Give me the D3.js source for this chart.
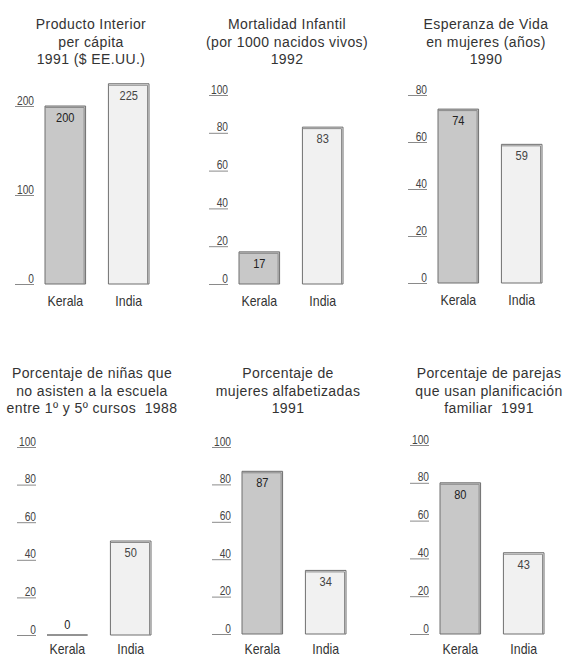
<!DOCTYPE html>
<html>
<head>
<meta charset="utf-8">
<script src="https://cdn.jsdelivr.net/npm/d3@7"></script>
<style>
  html, body { margin: 0; padding: 0; background: #fff; }
  svg { display: block; }
  .title { font-family: "Liberation Sans", Arial, sans-serif; font-size: 14px; letter-spacing: 0.4px; fill: #333; white-space: pre; }
  .tick text, .val, .cat { font-family: "Liberation Sans", Arial, sans-serif; }
</style>
</head>
<body>
<svg id="chart" width="568" height="656"></svg>
<script>
// Kerala vs India: six small bar charts of development indicators
const categories = ["Kerala", "India"];

const gdpValues = [200, 225];
const infantMortality = [17, 83];
const femaleLifeExpectancy = [74, 59];
const girlsNotInSchool = [0, 50];
const femaleLiteracy = [87, 34];
const familyPlanning = [80, 43];

const gdpTicks = [0, 100, 200];
const mortalityTicks = [0, 20, 40, 60, 80, 100];
const lifeTicks = [0, 20, 40, 60, 80];
const percentTicks = [0, 20, 40, 60, 80, 100];

const gdpTitle = ["Producto Interior", "per cápita", "1991 ($ EE.UU.)"];
const mortalityTitle = ["Mortalidad Infantil", "(por 1000 nacidos vivos)", "1992"];
const lifeTitle = ["Esperanza de Vida", "en mujeres (años)", "1990"];
const schoolTitle = ["Porcentaje de niñas que", "no asisten a la escuela", "entre 1º y 5º cursos  1988"];
const literacyTitle = ["Porcentaje de", "mujeres alfabetizadas", "1991"];
const planningTitle = ["Porcentaje de parejas", "que usan planificación", "familiar  1991"];

// Panel placement: left edge of the bars, baseline, pixel row of the top tick, category label baseline
const panels = [
  { values: gdpValues, ticks: gdpTicks, title: gdpTitle, cx: 91, ty: 29, barX: 45, base: 284, top: 106, catY: 306 },
  { values: infantMortality, ticks: mortalityTicks, title: mortalityTitle, cx: 287, ty: 29, barX: 239, base: 284, top: 95, catY: 306 },
  { values: femaleLifeExpectancy, ticks: lifeTicks, title: lifeTitle, cx: 486, ty: 29, barX: 438, base: 283, top: 95, catY: 305 },
  { values: girlsNotInSchool, ticks: percentTicks, title: schoolTitle, cx: 92, ty: 378, barX: 47, base: 635, top: 447, catY: 654 },
  { values: femaleLiteracy, ticks: percentTicks, title: literacyTitle, cx: 288, ty: 378, barX: 242, base: 634, top: 447, catY: 654 },
  { values: familyPlanning, ticks: percentTicks, title: planningTitle, cx: 489, ty: 378, barX: 440, base: 634, top: 445, catY: 654 }
];

const fills = { Kerala: "#c8c8c8", India: "#f1f1f1" };
const valueInk = { Kerala: "#222", India: "#444" };

const svg = d3.select("#chart");

panels.forEach(p => {
  const g = svg.append("g");

  // Title, three centred lines
  const t = g.append("text").attr("class", "title").attr("text-anchor", "middle");
  p.title.forEach((line, i) => {
    t.append("tspan").attr("x", p.cx).attr("y", p.ty + i * 17.5).text(line);
  });

  const y = d3.scaleLinear().domain([0, d3.max(p.ticks)]).range([p.base, p.top]);
  const x = d3.scaleBand().domain(categories).range([p.barX, p.barX + 104]).paddingInner(0.36);

  // Axis: short underline at each tick with its condensed label sitting on it
  const axis = g.append("g")
    .attr("transform", `translate(${p.barX - 11},0)`)
    .call(d3.axisLeft(y).tickValues(p.ticks).tickSize(19).tickPadding(0));
  axis.attr("font-family", null).attr("font-size", null);
  axis.select(".domain").remove();
  axis.selectAll(".tick line").attr("stroke", "#8a8a8a").attr("stroke-width", 1);
  axis.selectAll(".tick text")
    .attr("x", 0).attr("y", -2).attr("dy", 0)
    .attr("text-anchor", "end")
    .attr("transform", "scale(0.85,1)")
    .attr("fill", "#444")
    .attr("font-size", 12);

  const data = categories.map((c, i) => ({ c, v: p.values[i] }));

  // Bars (outlined shape; a zero value collapses to a line on the baseline)
  g.selectAll("path.bar").data(data).join("path")
    .attr("class", "bar")
    .attr("d", d => {
      const x0 = x(d.c), x1 = x0 + x.bandwidth(), y0 = y(d.v);
      return `M${x0},${p.base}V${y0}H${x1}V${p.base}Z`;
    })
    .attr("fill", d => fills[d.c])
    .attr("stroke", "#6f6f6f")
    .attr("stroke-width", 1);

  // Raised edge on top and right of each bar
  g.selectAll("path.edge").data(data.filter(d => d.v > 0)).join("path")
    .attr("class", "edge")
    .attr("d", d => {
      const x0 = x(d.c), x1 = x0 + x.bandwidth(), y0 = y(d.v);
      return `M${x0},${y0 + 1.5}H${x1 - 1.5}V${p.base}`;
    })
    .attr("fill", "none")
    .attr("stroke", "#8c8c8c")
    .attr("stroke-width", 1);

  // Value labels, condensed
  g.selectAll("text.val").data(data).join("text")
    .attr("class", "val")
    .attr("transform", d => `translate(${x(d.c) + x.bandwidth() / 2},${d.v > 5 ? y(d.v) + 16 : y(d.v) - 6}) scale(0.82,1)`)
    .attr("text-anchor", "middle")
    .attr("font-size", 13.5)
    .attr("fill", d => valueInk[d.c])
    .text(d => d.v);

  // Category labels, condensed
  g.selectAll("text.cat").data(data).join("text")
    .attr("class", "cat")
    .attr("transform", d => `translate(${x(d.c) + x.bandwidth() / 2},${p.catY}) scale(0.88,1)`)
    .attr("text-anchor", "middle")
    .attr("font-size", 14)
    .attr("fill", "#333")
    .text(d => d.c);
});
</script>
</body>
</html>
